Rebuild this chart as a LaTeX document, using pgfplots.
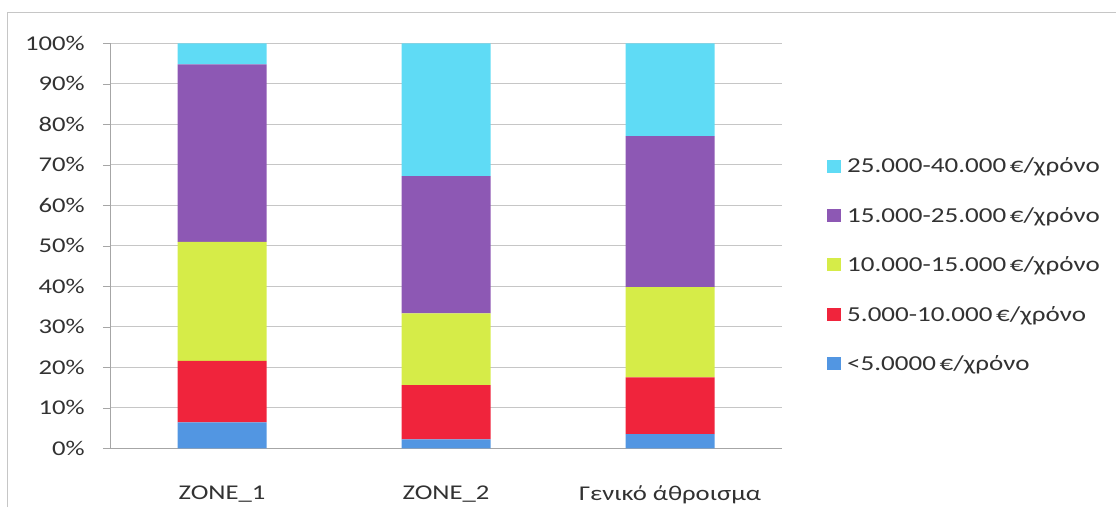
\documentclass[border=0pt]{standalone}
\usepackage{fontspec}
\setmainfont{Carlito}[FakeStretch=1.27]
\usepackage{pgfplots}
\pgfplotsset{compat=1.18}
\definecolor{cCyan}{RGB}{95,219,245}
\definecolor{cPurple}{RGB}{141,88,180}
\definecolor{cGreen}{RGB}{214,236,72}
\definecolor{cRed}{RGB}{240,36,60}
\definecolor{cBlue}{RGB}{82,150,226}
\definecolor{txt}{RGB}{50,50,50}
\begin{document}
\begin{tikzpicture}
\useasboundingbox (0,0) rectangle (1116pt,507pt);
\draw[gray!45, line width=1pt] (7pt,0) -- (7pt,494pt) -- (1116pt,494pt);
\begin{axis}[
  at={(110pt,58.7pt)}, anchor=south west,
  scale only axis, width=672pt, height=405pt,
  ybar stacked, bar width=89pt,
  xmin=-0.5, xmax=2.5, ymin=0, ymax=100,
  xtick={0,1,2}, xticklabels={ZONE\_1, ZONE\_2, Γενικό άθροισμα},
  extra x ticks={-0.5,0.5,1.5,2.5}, extra x tick labels={},
  extra x tick style={major tick length=9pt, tick style={draw=gray!70}, grid=none},
  ytick={0,10,...,100},
  yticklabel={\pgfmathprintnumber{\tick}\%},
  /pgf/number format/assume math mode=true,
  ymajorgrids, grid style={gray!45, line width=0.8pt},
  major x tick style={draw=none},
  tick align=outside, major tick length=7pt,
  ytick style={draw=gray!70},
  axis x line*=bottom, axis y line*=left,
  axis line style={gray!70, line width=0.8pt},
  tick label style={font=\fontsize{21}{25}\selectfont, text=txt},
  yticklabel style={inner sep=0pt, xshift=-18pt},
  xticklabel style={inner sep=0pt, yshift=-30pt},
  legend style={draw=none, fill=none, at={(1.067,0.4526)}, anchor=west,
    font=\fontsize{21.3}{25}\selectfont, text=txt, row sep=33pt, inner sep=0pt,
    legend cell align=left, nodes={inner sep=0pt},
    /tikz/every odd column/.append style={column sep=6pt}},
  reverse legend,
  legend image code/.code={\fill[#1] (0pt,-6.5pt) rectangle (14pt,6.5pt);},
  every axis plot/.append style={draw=none},
]
\addplot[fill=cBlue] coordinates {(0,6.4) (1,2.2) (2,3.5)};
\addplot[fill=cRed] coordinates {(0,15.2) (1,13.4) (2,14.0)};
\addplot[fill=cGreen] coordinates {(0,29.4) (1,17.7) (2,22.3)};
\addplot[fill=cPurple] coordinates {(0,43.8) (1,33.9) (2,37.3)};
\addplot[fill=cCyan] coordinates {(0,5.2) (1,32.8) (2,22.9)};
\legend{<5.0000\,€/χρόνο, 5.000-10.000\,€/χρόνο, 10.000-15.000\,€/χρόνο, 15.000-25.000\,€/χρόνο, 25.000-40.000\,€/χρόνο}
\end{axis}
\end{tikzpicture}
\end{document}
